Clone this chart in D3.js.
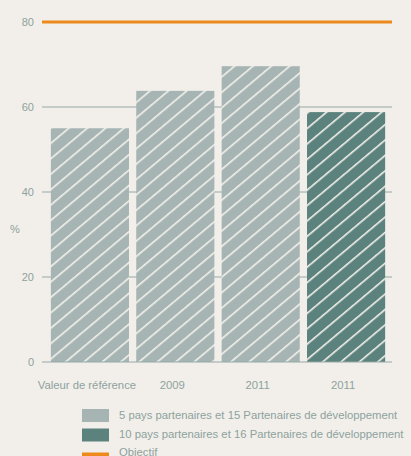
<!DOCTYPE html>
<html>
<head>
<meta charset="utf-8">
<script src="https://cdn.jsdelivr.net/npm/d3@7/dist/d3.min.js"></script>
<style>
  html, body { margin: 0; padding: 0; background: #f2efea; }
  svg { display: block; }
  text { font-family: "Liberation Sans", Arial, sans-serif; fill: #8da29e; }
</style>
</head>
<body>
<div id="chart"></div>
<script>
// Categories along the x axis
const categories = ["Valeur de référence", "2009", "2011", "2011 "];
const categoryLabels = ["Valeur de référence", "2009", "2011", "2011"];
// Share (%) per bar
const values = [55, 63.8, 69.6, 58.8];
// Which group each bar belongs to (0 = first legend entry, 1 = second)
const groups = [0, 0, 0, 1];
// Target level
const target = 80;
// Y axis ticks
const yTicks = [0, 20, 40, 60, 80];
// Legend entries
const legendLabels = [
  "5 pays partenaires et 15 Partenaires de développement",
  "10 pays partenaires et 16 Partenaires de développement",
  "Objectif"
];

const W = 411, H = 456;
const colors = ["#a6b5b4", "#5b827d"];
const orange = "#ec8b1c";
const gridColor = "#93aaa6";

const svg = d3.select("#chart").append("svg")
  .attr("width", W).attr("height", H);

svg.append("rect").attr("width", W).attr("height", H).attr("fill", "#f2efea");

// Diagonal hatching patterns
const defs = svg.append("defs");
colors.forEach((c, i) => {
  const p = defs.append("pattern")
    .attr("id", "hatch" + i)
    .attr("patternUnits", "userSpaceOnUse")
    .attr("width", 12).attr("height", 11.8)
    .attr("patternTransform", "rotate(-40)");
  p.append("rect").attr("width", 12).attr("height", 11.8).attr("fill", c);
  p.append("rect").attr("y", 0).attr("width", 12).attr("height", 1.6).attr("fill", "#f3f0ea");
});

const y = d3.scaleLinear().domain([0, 80]).range([362, 22]);
const x = d3.scaleBand().domain(categories).range([47, 389])
  .paddingInner(0.085).paddingOuter(0.045);

const gridX0 = 42, gridX1 = 392;

// Gridlines (behind bars)
svg.append("g").selectAll("line")
  .data(yTicks.filter(t => t > 0 && t < 80))
  .join("line")
  .attr("x1", gridX0).attr("x2", gridX1)
  .attr("y1", d => y(d)).attr("y2", d => y(d))
  .attr("stroke", gridColor).attr("stroke-width", 1.2);

// Bars
svg.append("g").selectAll("rect")
  .data(values)
  .join("rect")
  .attr("x", (d, i) => x(categories[i]))
  .attr("width", x.bandwidth())
  .attr("y", d => y(d))
  .attr("height", d => y(0) - y(d))
  .attr("fill", (d, i) => `url(#hatch${groups[i]})`);

// Baseline
svg.append("line")
  .attr("x1", gridX0).attr("x2", gridX1)
  .attr("y1", y(0)).attr("y2", y(0))
  .attr("stroke", gridColor).attr("stroke-width", 1.2);

// Target line
svg.append("line")
  .attr("x1", gridX0).attr("x2", gridX1)
  .attr("y1", y(target)).attr("y2", y(target))
  .attr("stroke", orange).attr("stroke-width", 3);

// Y tick labels
svg.append("g").selectAll("text")
  .data(yTicks)
  .join("text")
  .attr("x", 34).attr("y", d => y(d))
  .attr("dy", "0.35em")
  .attr("text-anchor", "end")
  .attr("font-size", 11)
  .text(d => d);

// Y axis unit
svg.append("text")
  .attr("x", 15).attr("y", 229).attr("dy", "0.35em")
  .attr("text-anchor", "middle").attr("font-size", 11)
  .text("%");

// X labels
svg.append("g").selectAll("text")
  .data(categories)
  .join("text")
  .attr("x", d => x(d) + x.bandwidth() / 2 - 3)
  .attr("y", 385).attr("dy", "0.35em")
  .attr("text-anchor", "middle")
  .attr("font-size", 11.3)
  .text((d, i) => categoryLabels[i]);

// Legend
const legendColors = [colors[0], colors[1], orange];
const swatchY = [409, 428.5, 452.5];
const swatchH = [13, 13, 6];
const textY = [418.5, 438, 455.8];
const lg = svg.append("g");
legendLabels.forEach((t, i) => {
  lg.append("rect")
    .attr("x", 82).attr("y", swatchY[i])
    .attr("width", 27).attr("height", swatchH[i])
    .attr("fill", legendColors[i]);
  lg.append("text")
    .attr("x", 119).attr("y", textY[i])
    .attr("font-size", 11.3)
    .text(t);
});
</script>
</body>
</html>
